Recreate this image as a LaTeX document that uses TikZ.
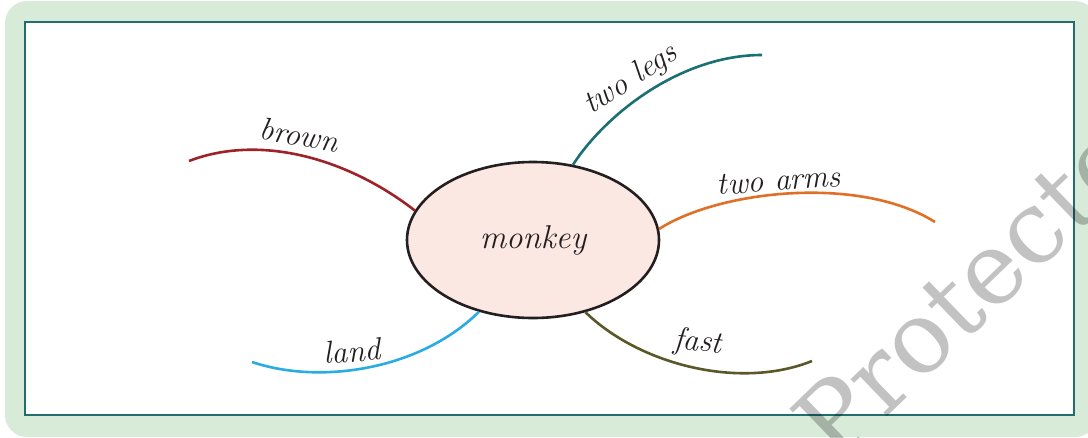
\documentclass[tikz,border=0pt]{standalone}
\usepackage{fontspec}
\newfontfamily\wmfont{DejaVu Serif}
\usetikzlibrary{shapes.geometric}
\definecolor{framegreen}{RGB}{216,235,217}
\definecolor{frameteal}{RGB}{31,110,114}
\definecolor{cbrown}{RGB}{158,34,40}
\definecolor{clegs}{RGB}{26,112,115}
\definecolor{carms}{RGB}{224,112,40}
\definecolor{cfast}{RGB}{90,88,40}
\definecolor{cland}{RGB}{42,171,226}
\definecolor{cfill}{RGB}{252,232,227}
\definecolor{ink}{RGB}{35,31,32}
\begin{document}
\begin{tikzpicture}[x=1pt,y=-1pt,
  branch/.style={line width=2.6pt},
  lbl/.style={inner sep=0pt,font=\fontsize{31.5}{36}\selectfont\itshape,text=ink}]
\useasboundingbox (0,0) rectangle (1088,437);
\fill[framegreen,rounded corners=22pt] (5,1) rectangle (1097,437);
\draw[frameteal,fill=white,line width=2.6pt] (25,22) rectangle (1074,415);
\node[ellipse,draw=ink,fill=cfill,line width=2.6pt,minimum width=252pt,minimum height=156pt,inner sep=0pt,
  font=\fontsize{33}{38}\selectfont\itshape,text=ink] (m) at (533,240) {monkey};
\coordinate (ebrown) at (189,161);
\coordinate (elegs) at (762,55);
\coordinate (earms) at (935,222);
\coordinate (efast) at (812,361);
\coordinate (eland) at (252,362);
\draw[branch,cbrown] (m.166) .. controls (350,160) and (262,133) .. (ebrown);
\draw[branch,clegs] (m.62) .. controls (605,115) and (680,55) .. (elegs);
\draw[branch,carms] (m.5) .. controls (720,190) and (860,175) .. (earms);
\draw[branch,cfast] (m.-54) .. controls (640,365) and (740,390) .. (efast);
\draw[branch,cland] (m.233) .. controls (420,370) and (320,385) .. (eland);
\node[lbl,rotate=-10] (tbrown) at (299,135) {brown};
\node[lbl,rotate=33] (tlegs) at (631,80) {two legs};
\node[lbl,rotate=4] (tarms) at (779,181) {two arms};
\node[lbl,rotate=-6] (tfast) at (698,343) {fast};
\node[lbl,rotate=4] (tland) at (352,351) {land};
\node[rotate=44,anchor=base west,inner sep=0pt,text=black,text opacity=0.24,
  font=\wmfont\fontsize{100}{110}\selectfont] (wm) at (836,466) {Protected};
\end{tikzpicture}
\end{document}
